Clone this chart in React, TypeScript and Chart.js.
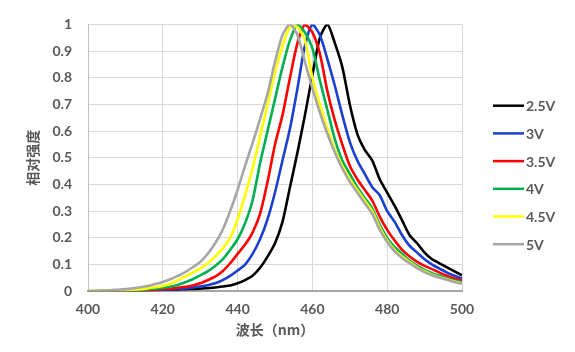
import React, { useEffect, useRef } from "react";
import { Chart, registerables } from "chart.js";

Chart.register(...registerables);

const wavelengths = [
  400, 402, 404, 406, 408, 410, 412, 414, 416, 418, 420, 422, 424, 426, 428, 430, 432, 434, 436, 438,
  440, 442, 444, 446, 448, 450, 452, 454, 456, 458, 460, 462, 464, 466, 468, 470, 472, 474, 476, 478,
  480, 482, 484, 486, 488, 490, 492, 494, 496, 498, 500,
];

const seriesLabels = ["2.5V", "3V", "3.5V", "4V", "4.5V", "5V"];
const seriesColors = ["#000000", "#1a3fd1", "#ff0000", "#00b050", "#ffff00", "#a6a6a6"];

const v25 = [
  0, 0, 0, 0, 0.001, 0.002, 0.002, 0.003, 0.003, 0.004, 0.005, 0.006, 0.007, 0.008, 0.009, 0.01, 0.012, 0.014, 0.018, 0.022,
  0.03, 0.042, 0.058, 0.088, 0.13, 0.18, 0.26, 0.39, 0.52, 0.66, 0.81, 0.95, 1.0, 0.93, 0.84, 0.7, 0.59, 0.53, 0.49, 0.42,
  0.37, 0.32, 0.265, 0.21, 0.18, 0.145, 0.12, 0.105, 0.09, 0.075, 0.06,
];
const v3 = [
  0, 0, 0, 0, 0.001, 0.002, 0.002, 0.003, 0.004, 0.005, 0.006, 0.007, 0.009, 0.011, 0.014, 0.018, 0.023, 0.03, 0.042, 0.058,
  0.078, 0.1, 0.14, 0.195, 0.27, 0.37, 0.49, 0.61, 0.76, 0.92, 1.0, 0.96, 0.87, 0.77, 0.66, 0.56, 0.49, 0.44, 0.39, 0.36,
  0.3, 0.26, 0.21, 0.17, 0.145, 0.12, 0.1, 0.085, 0.07, 0.058, 0.048,
];
const v35 = [
  0, 0, 0, 0.001, 0.002, 0.003, 0.003, 0.004, 0.005, 0.006, 0.008, 0.01, 0.013, 0.017, 0.022, 0.03, 0.042, 0.055, 0.075, 0.105,
  0.14, 0.175, 0.22, 0.29, 0.41, 0.55, 0.66, 0.8, 0.93, 1.0, 0.97, 0.89, 0.75, 0.64, 0.55, 0.47, 0.42, 0.38, 0.34, 0.28,
  0.23, 0.19, 0.155, 0.13, 0.11, 0.095, 0.083, 0.07, 0.058, 0.048, 0.04,
];
const v4 = [
  0, 0, 0.001, 0.002, 0.003, 0.003, 0.004, 0.006, 0.008, 0.01, 0.013, 0.017, 0.024, 0.034, 0.045, 0.06, 0.075, 0.095, 0.12, 0.155,
  0.195, 0.255, 0.34, 0.48, 0.6, 0.72, 0.84, 0.94, 1.0, 0.97, 0.91, 0.79, 0.68, 0.57, 0.49, 0.44, 0.39, 0.35, 0.31, 0.25,
  0.2, 0.165, 0.14, 0.115, 0.095, 0.08, 0.068, 0.058, 0.048, 0.04, 0.034,
];
const v45 = [
  0, 0.001, 0.002, 0.002, 0.003, 0.004, 0.006, 0.008, 0.011, 0.015, 0.02, 0.028, 0.042, 0.055, 0.07, 0.085, 0.105, 0.13, 0.16, 0.2,
  0.27, 0.36, 0.46, 0.58, 0.7, 0.82, 0.92, 0.99, 0.99, 0.94, 0.8, 0.7, 0.61, 0.53, 0.47, 0.42, 0.38, 0.34, 0.3, 0.24,
  0.19, 0.155, 0.13, 0.11, 0.09, 0.075, 0.062, 0.053, 0.045, 0.037, 0.03,
];
const v5 = [
  0.001, 0.002, 0.003, 0.004, 0.006, 0.008, 0.011, 0.015, 0.02, 0.027, 0.035, 0.045, 0.058, 0.072, 0.09, 0.11, 0.14, 0.18, 0.23, 0.3,
  0.38, 0.47, 0.555, 0.645, 0.74, 0.86, 0.96, 1.0, 0.96, 0.86, 0.76, 0.67, 0.59, 0.52, 0.46, 0.41, 0.37, 0.33, 0.29, 0.23,
  0.185, 0.15, 0.125, 0.105, 0.087, 0.072, 0.06, 0.051, 0.043, 0.035, 0.028,
];

const seriesValues = [v25, v3, v35, v4, v45, v5];

const xTitle = "波长（nm）";
const yTitle = "相对强度";

const TEXT_COLOR = "#595959";
const NUM_FONT = "Lato, 'Open Sans', sans-serif";
const CJK_FONT = "'Noto Sans CJK SC', 'Noto Sans', sans-serif";

const legendPlugin = {
  id: "customLegend",
  afterDraw(chart: any) {
    const ctx = chart.ctx;
    const area = chart.chartArea;
    ctx.save();
    const startY = 105.7;
    const step = 27.7;
    const x0 = area.right + 31;
    chart.data.datasets.forEach((ds: any, i: number) => {
      const y = startY + i * step;
      ctx.strokeStyle = ds.borderColor;
      ctx.lineWidth = 2.5;
      ctx.beginPath();
      ctx.moveTo(x0, y);
      ctx.lineTo(x0 + 31, y);
      ctx.stroke();
      ctx.fillStyle = TEXT_COLOR;
      ctx.font = `bold 14px ${NUM_FONT}`;
      ctx.textBaseline = "middle";
      ctx.textAlign = "left";
      ctx.fillText(ds.label, x0 + 33, y + 1);
    });
    ctx.restore();
  },
};

export default function App() {
  const ref = useRef<HTMLCanvasElement>(null);

  useEffect(() => {
    document.body.style.margin = "0";
    const canvas = ref.current;
    if (!canvas) return;
    const datasets = seriesLabels.map((label, i) => ({
      label,
      data: wavelengths.map((w, j) => ({ x: w, y: seriesValues[i][j] })),
      borderColor: seriesColors[i],
      backgroundColor: seriesColors[i],
      borderWidth: 2.6,
      pointRadius: 0,
      tension: 0.25,
      fill: false,
      order: seriesLabels.length - i,
    }));
    const chart = new Chart(canvas, {
      type: "line",
      data: { datasets },
      plugins: [legendPlugin],
      options: {
        animation: false,
        responsive: false,
        devicePixelRatio: 1,
        layout: { padding: { top: 24, right: 113, left: 0, bottom: 0 } },
        plugins: {
          legend: { display: false },
          tooltip: { enabled: false },
        },
        scales: {
          x: {
            type: "linear",
            min: 400,
            max: 500,
            afterFit: (s: any) => {
              s.height = 60.7;
            },
            ticks: {
              stepSize: 20,
              color: TEXT_COLOR,
              font: { family: NUM_FONT, size: 14, weight: "bold" },
              padding: 10,
              maxRotation: 0,
            },
            grid: { color: "#d9d9d9", lineWidth: 1, drawTicks: false },
            border: { color: "#a6a6a6", width: 2 },
            title: {
              display: true,
              text: xTitle,
              color: TEXT_COLOR,
              font: { family: CJK_FONT, size: 14, weight: "bold", lineHeight: 1.2 },
              padding: { top: 0, bottom: 13.6 },
            },
          },
          y: {
            type: "linear",
            min: 0,
            max: 1,
            afterFit: (s: any) => {
              s.width = 88;
            },
            ticks: {
              stepSize: 0.1,
              color: TEXT_COLOR,
              font: { family: NUM_FONT, size: 14, weight: "bold" },
              padding: 16,
              callback: (v: any) => String(Number(Number(v).toFixed(1))),
            },
            grid: { color: "#d9d9d9", lineWidth: 1, drawTicks: false },
            border: { color: "#bfbfbf", width: 1 },
            title: {
              display: true,
              text: yTitle,
              color: TEXT_COLOR,
              font: { family: CJK_FONT, size: 14, weight: "bold", lineHeight: 1.2 },
              padding: { top: 24, bottom: 0 },
            },
          },
        },
      } as any,
    });
    return () => chart.destroy();
  }, []);

  return (
    <div style={{ position: "absolute", left: 0, top: 0, width: 575, height: 352, background: "#fff" }}>
      <canvas ref={ref} width={575} height={352} style={{ display: "block", width: 575, height: 352 }} />
    </div>
  );
}
